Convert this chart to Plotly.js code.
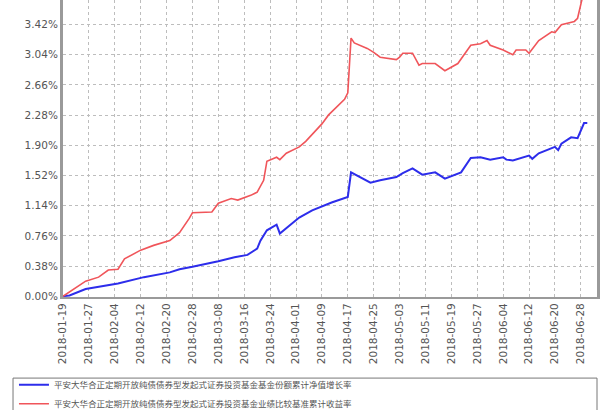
<!DOCTYPE html>
<html>
<head>
<meta charset="utf-8">
<script src="https://cdn.plot.ly/plotly-3.0.1.min.js"></script>
<style>
html,body{margin:0;padding:0;background:#fff;}
#chart{width:607px;height:410px;}
</style>
</head>
<body>
<div id="chart"></div>
<script>
// Fund NAV cumulative growth (blue), %
const fundDates = ['2018-01-19','2018-01-21','2018-01-26','2018-02-05','2018-02-13','2018-02-21','2018-02-24','2018-02-28',
  '2018-03-08','2018-03-13','2018-03-17','2018-03-20','2018-03-21','2018-03-23','2018-03-26','2018-03-27','2018-03-30',
  '2018-04-02','2018-04-06','2018-04-12','2018-04-17','2018-04-18','2018-04-24','2018-04-27','2018-05-02','2018-05-04',
  '2018-05-07','2018-05-10','2018-05-14','2018-05-17','2018-05-22','2018-05-25','2018-05-28','2018-05-31','2018-06-04',
  '2018-06-05','2018-06-07','2018-06-12','2018-06-13','2018-06-15','2018-06-20','2018-06-21','2018-06-22','2018-06-25',
  '2018-06-27','2018-06-29','2018-06-30'];
const fundValues = [0.00,0.01,0.09,0.16,0.24,0.30,0.34,0.37,
  0.44,0.49,0.52,0.60,0.70,0.83,0.90,0.79,0.89,
  0.99,1.08,1.18,1.25,1.56,1.43,1.46,1.50,1.55,
  1.61,1.53,1.56,1.48,1.56,1.74,1.75,1.72,1.75,
  1.72,1.71,1.77,1.73,1.80,1.88,1.84,1.92,2.00,
  1.99,2.18,2.18];

// Benchmark cumulative return (red), %
const benchDates = ['2018-01-19','2018-01-23','2018-01-26','2018-01-30','2018-02-02','2018-02-05','2018-02-07','2018-02-12',
  '2018-02-16','2018-02-21','2018-02-24','2018-02-27','2018-02-28','2018-03-06','2018-03-08','2018-03-12','2018-03-14',
  '2018-03-18','2018-03-20','2018-03-22','2018-03-23','2018-03-26','2018-03-27','2018-03-29','2018-04-02','2018-04-04',
  '2018-04-09','2018-04-11','2018-04-13','2018-04-16','2018-04-17','2018-04-18','2018-04-19','2018-04-23','2018-04-25',
  '2018-04-27','2018-05-02','2018-05-03','2018-05-04','2018-05-07','2018-05-09','2018-05-10','2018-05-14','2018-05-17',
  '2018-05-21','2018-05-25','2018-05-28','2018-05-30','2018-05-31','2018-06-04','2018-06-07','2018-06-08','2018-06-11',
  '2018-06-12','2018-06-15','2018-06-19','2018-06-20','2018-06-22','2018-06-26','2018-06-27','2018-06-29'];
const benchValues = [0.00,0.11,0.19,0.24,0.33,0.34,0.47,0.58,
  0.64,0.70,0.80,0.98,1.05,1.06,1.17,1.23,1.21,
  1.27,1.31,1.46,1.70,1.75,1.72,1.80,1.88,1.95,
  2.17,2.28,2.36,2.48,2.56,3.25,3.19,3.12,3.07,
  3.01,2.98,3.01,3.06,3.06,2.91,2.93,2.93,2.84,
  2.93,3.16,3.18,3.22,3.16,3.10,3.04,3.10,3.10,
  3.06,3.22,3.33,3.32,3.42,3.46,3.50,3.85];

const yTickVals = [0.00,0.38,0.76,1.14,1.52,1.90,2.28,2.66,3.04,3.42,3.80];
const yTickText = ['0.00%','0.38%','0.76%','1.14%','1.52%','1.90%','2.28%','2.66%','3.04%','3.42%','3.80%'];

const fundName = '平安大华合正定期开放纯债债券型发起式证券投资基金基金份额累计净值增长率';
const benchName = '平安大华合正定期开放纯债债券型发起式证券投资基金业绩比较基准累计收益率';

const traces = [
  {x: fundDates, y: fundValues, name: fundName, type: 'scatter', mode: 'lines',
   line: {color: 'rgb(45,45,235)', width: 2}},
  {x: benchDates, y: benchValues, name: benchName, type: 'scatter', mode: 'lines',
   line: {color: 'rgb(240,85,90)', width: 1.6}}
];

const layout = {
  width: 607, height: 410,
  margin: {l: 63, r: 10, t: 0, b: 113, autoexpand: false},
  paper_bgcolor: '#fff', plot_bgcolor: '#fff',
  showlegend: true,
  font: {family: 'DejaVu Sans, sans-serif', color: '#555', size: 10},
  xaxis: {
    type: 'date', automargin: false,
    range: ['2018-01-19', '2018-07-03'],
    tick0: '2018-01-19', dtick: 8 * 86400000,
    tickformat: '%Y-%m-%d', tickangle: -90,
    tickfont: {size: 10.5, color: '#555'},
    showgrid: true, gridcolor: '#bdbdbd', griddash: 'dot', gridwidth: 1,
    showline: true, linecolor: '#9a9a9a', linewidth: 2,
    ticks: '', zeroline: false, fixedrange: true
  },
  yaxis: {
    range: [-0.01, 3.73], automargin: false,
    tickmode: 'array', tickvals: yTickVals, ticktext: yTickText,
    tickfont: {size: 10.5, color: '#555'},
    showgrid: true, gridcolor: '#bdbdbd', griddash: 'dot', gridwidth: 1,
    showline: true, linecolor: '#9a9a9a', linewidth: 3, mirror: true,
    ticks: '', zeroline: false, fixedrange: true
  },
  legend: {
    xref: 'container', yref: 'container',
    x: 0.023, xanchor: 'left', y: 0.097, yanchor: 'top',
    orientation: 'v',
    borderwidth: 0, bgcolor: 'rgba(0,0,0,0)',
    font: {family: 'Noto Sans CJK SC, sans-serif', size: 8.5, color: '#555'},
    itemwidth: 30, tracegroupgap: 0
  },
  shapes: [
    {type: 'rect', xref: 'paper', yref: 'paper',
     x0: -0.0936, x1: 1.0, y0: -0.273, y1: -0.45,
     line: {color: '#777', width: 1}, fillcolor: 'rgba(0,0,0,0)', layer: 'below'}
  ]
};

Plotly.newPlot('chart', traces, layout, {displayModeBar: false, staticPlot: true});
</script>
</body>
</html>
